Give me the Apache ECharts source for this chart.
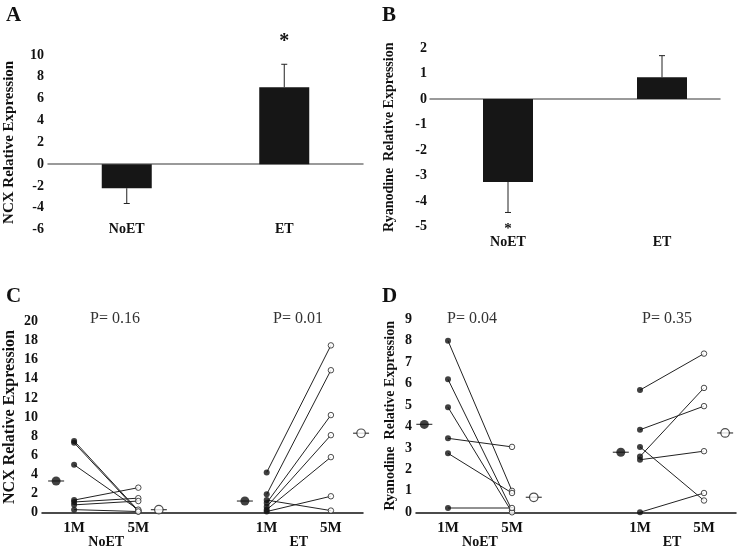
<!DOCTYPE html>
<html>
<head>
<meta charset="utf-8">
<script src="https://cdn.jsdelivr.net/npm/echarts@6/dist/echarts.min.js"></script>
<style>html,body{margin:0;padding:0;background:#fff}#chartDiv{width:739px;height:555px}</style>
</head>
<body>
<div id="chartDiv"></div>
<script>
var groups = ['NoET', 'ET'];
var timeLabels = ['1M', '5M'];

// A: NCX relative expression (bar + one-sided SE)
var ncxBars = [-2.2, 7.05];
var ncxErr = [1.4, 2.1];
var ncxSig = ['', '*'];

// B: ryanodine relative expression
var ryrBars = [-3.25, 0.85];
var ryrErr = [1.2, 0.85];
var ryrSig = ['*', ''];

// C: NCX per subject, 1M -> 5M
var ncxNoET1M = [7.5, 7.3, 5.0, 1.3, 1.1, 0.8, 0.3];
var ncxNoET5M = [0.2, 0.1, 0.3, 2.6, 1.5, 1.2, 0.1];
var ncxET1M = [4.2, 1.9, 1.0, 0.6, 0.3, 0.1, 1.3];
var ncxET5M = [17.5, 14.9, 10.2, 8.1, 5.8, 1.7, 0.2];
var ncxMeans = [3.3, 0.3, 1.2, 8.3]; // NoET 1M, NoET 5M, ET 1M, ET 5M
var ncxP = ['P= 0.16', 'P= 0.01'];

// D: ryanodine per subject
var ryrNoET1M = [8.0, 6.2, 4.9, 3.45, 2.75, 0.2];
var ryrNoET5M = [1.0, 0.1, 0.0, 3.05, 0.9, 0.2];
var ryrET1M = [5.7, 3.85, 3.05, 2.6, 2.45, 0.0];
var ryrET5M = [7.4, 4.95, 0.55, 5.8, 2.85, 0.9];
var ryrMeans = [4.1, 0.7, 2.8, 3.7];
var ryrP = ['P= 0.04', 'P= 0.35'];

// layout (x positions on the C/D value axis)
var timeX = [[0.5, 1.5], [3.5, 4.5]];
var meanXC = [0.22, 1.82, 3.16, 4.97];
var meanXD = [0.13, 1.84, 3.2, 4.83];

var FONT = '"Liberation Serif", "Times New Roman", serif';
var myChart = echarts.init(document.getElementById('chartDiv'));

function errItem(errs, sigs, starGap, starSize) {
    return function (params, api) {
        var i = params.dataIndex;
        var v = api.value(1);
        var dir = v < 0 ? -1 : 1;
        var p0 = api.coord([api.value(0), v]);
        var p1 = api.coord([api.value(0), v + dir * errs[i]]);
        var kids = [
            {type: 'line', shape: {x1: p0[0], y1: p0[1], x2: p1[0], y2: p1[1]}, style: {stroke: '#222', lineWidth: 1}},
            {type: 'line', shape: {x1: p1[0] - 3, y1: p1[1], x2: p1[0] + 3, y2: p1[1]}, style: {stroke: '#222', lineWidth: 1}}
        ];
        if (sigs[i]) {
            kids.push({
                type: 'text', x: p1[0], y: p1[1] - dir * starGap,
                style: {text: sigs[i], font: 'bold ' + starSize + 'px ' + FONT, textAlign: 'center', textVerticalAlign: 'middle', align: 'center', verticalAlign: 'middle', fill: '#111'}
            });
        }
        return {type: 'group', children: kids};
    };
}

function pairSeries(xi, yi, pre, post, xs, dot) {
    var out = [];
    for (var i = 0; i < pre.length; i++) {
        out.push({
            type: 'line', xAxisIndex: xi, yAxisIndex: yi,
            data: [[xs[0], pre[i]], [xs[1], post[i]]],
            symbol: 'none', silent: true, z: 2,
            lineStyle: {color: '#222', width: 1}
        });
    }
    out.push({type: 'scatter', xAxisIndex: xi, yAxisIndex: yi, z: 3, symbolSize: dot,
        data: pre.map(function (v) { return [xs[0], v]; }), itemStyle: {color: '#111'}});
    out.push({type: 'scatter', xAxisIndex: xi, yAxisIndex: yi, z: 3, symbolSize: dot - 0.5,
        data: post.map(function (v) { return [xs[1], v]; }),
        itemStyle: {color: '#fff', borderColor: '#222', borderWidth: 1}});
    return out;
}

function meanSeries(xi, yi, means, mx) {
    var pts = means.map(function (v, i) { return [mx[i], v]; });
    return [
        {type: 'scatter', xAxisIndex: xi, yAxisIndex: yi, z: 3, symbol: 'rect', symbolSize: [16, 1.3],
            data: pts, itemStyle: {color: '#222'}},
        {type: 'scatter', xAxisIndex: xi, yAxisIndex: yi, z: 4, symbolSize: 9,
            data: [pts[0], pts[2]], itemStyle: {color: '#111'}},
        {type: 'scatter', xAxisIndex: xi, yAxisIndex: yi, z: 4, symbolSize: 8.5,
            data: [pts[1], pts[3]], itemStyle: {color: '#fff', borderColor: '#222', borderWidth: 1.2}}
    ];
}

function yAx(gi, min, max, step, name, nameSize, gap) {
    return {
        type: 'value', gridIndex: gi, min: min, max: max, interval: step,
        name: name, nameLocation: 'middle', nameRotate: 90, nameGap: gap,
        nameTextStyle: {fontFamily: FONT, fontWeight: 'bold', fontSize: nameSize, color: '#111'},
        axisLine: {show: false}, axisTick: {show: false}, splitLine: {show: false},
        axisLabel: {fontFamily: FONT, fontWeight: 'bold', fontSize: 14, color: '#111', margin: 4}
    };
}

function timeAxis(gi) {
    return {
        type: 'value', gridIndex: gi, min: 0, max: 5, interval: 0.5, position: 'bottom',
        axisLine: {onZero: false, lineStyle: {color: '#111', width: 1.5}},
        axisTick: {show: false}, splitLine: {show: false},
        axisLabel: {fontFamily: FONT, fontWeight: 'bold', fontSize: 15, color: '#111', margin: 8,
            formatter: function (v) {
                for (var g = 0; g < timeX.length; g++) {
                    for (var t = 0; t < 2; t++) if (Math.abs(v - timeX[g][t]) < 1e-6) return timeLabels[t];
                }
                return '';
            }}
    };
}

function groupAxis(gi) {
    return {
        type: 'value', gridIndex: gi, min: 0, max: 5, interval: 1, position: 'bottom',
        axisLine: {show: false, onZero: false}, axisTick: {show: false}, splitLine: {show: false},
        axisLabel: {fontFamily: FONT, fontWeight: 'bold', fontSize: 14, color: '#111', margin: 23,
            formatter: function (v) {
                for (var g = 0; g < timeX.length; g++) {
                    if (Math.abs(v - (timeX[g][0] + timeX[g][1]) / 2) < 1e-6) return groups[g];
                }
                return '';
            }}
    };
}

var catLabel = {fontFamily: FONT, fontWeight: 'bold', fontSize: 14, color: '#111'};
var titleStyle = {fontFamily: FONT, fontWeight: 'bold', fontSize: 21, color: '#111'};
var pStyle = {fontFamily: FONT, fontWeight: 'normal', fontSize: 16, color: '#333'};

var series = [
    {type: 'bar', xAxisIndex: 0, yAxisIndex: 0, data: ncxBars, barWidth: 50, itemStyle: {color: '#161616'}, z: 2},
    {type: 'custom', xAxisIndex: 0, yAxisIndex: 0, clip: false, z: 3,
        data: ncxBars.map(function (v, i) { return [i, v]; }),
        renderItem: errItem(ncxErr, ncxSig, 22, 20)},
    {type: 'bar', xAxisIndex: 2, yAxisIndex: 1, data: ryrBars, barWidth: 50, itemStyle: {color: '#161616'}, z: 2},
    {type: 'custom', xAxisIndex: 2, yAxisIndex: 1, clip: false, z: 3,
        data: ryrBars.map(function (v, i) { return [i, v]; }),
        renderItem: errItem(ryrErr, ryrSig, 17, 15)}
];
series = series
    .concat(pairSeries(4, 3, ncxNoET1M, ncxNoET5M, timeX[0], 6))
    .concat(pairSeries(4, 3, ncxET1M, ncxET5M, timeX[1], 6))
    .concat(meanSeries(4, 3, ncxMeans, meanXC))
    .concat(pairSeries(6, 4, ryrNoET1M, ryrNoET5M, timeX[0], 6))
    .concat(pairSeries(6, 4, ryrET1M, ryrET5M, timeX[1], 6))
    .concat(meanSeries(6, 4, ryrMeans, meanXD));

myChart.setOption({
    animation: false,
    backgroundColor: '#fff',
    title: [
        {text: 'A', left: 6, top: 5, padding: 0, textStyle: titleStyle},
        {text: 'B', left: 382, top: 5, padding: 0, textStyle: titleStyle},
        {text: 'C', left: 6, top: 286, padding: 0, textStyle: titleStyle},
        {text: 'D', left: 382, top: 286, padding: 0, textStyle: titleStyle},
        {text: ncxP[0], left: 90, top: 311, padding: 0, textStyle: pStyle},
        {text: ncxP[1], left: 273, top: 311, padding: 0, textStyle: pStyle},
        {text: ryrP[0], left: 447, top: 311, padding: 0, textStyle: pStyle},
        {text: ryrP[1], left: 642, top: 311, padding: 0, textStyle: pStyle}
    ],
    grid: [
        {left: 48, top: 55, width: 315, height: 174.7},
        {left: 431, top: 48, width: 316, height: 178.5},
        {left: 430, top: 48, width: 290, height: 178.5},
        {left: 42, top: 321.5, width: 321, height: 191},
        {left: 416, top: 319.3, width: 321, height: 193}
    ],
    xAxis: [
        {type: 'category', gridIndex: 0, data: groups, axisLine: {show: false, onZero: false},
            axisTick: {show: false}, axisLabel: Object.assign({margin: 0, verticalAlign: 'middle'}, catLabel)},
        {type: 'category', gridIndex: 0, data: groups, position: 'bottom',
            axisLine: {onZero: true, lineStyle: {color: '#7a7a7a', width: 1.5}},
            axisTick: {show: false}, axisLabel: {show: false}},
        {type: 'category', gridIndex: 1, data: groups, axisLine: {show: false, onZero: false},
            axisTick: {show: false}, axisLabel: Object.assign({margin: 16, verticalAlign: 'middle'}, catLabel)},
        {type: 'value', gridIndex: 2, min: 0, max: 1, position: 'bottom',
            axisLine: {onZero: true, lineStyle: {color: '#7a7a7a', width: 1.5}},
            axisTick: {show: false}, axisLabel: {show: false}, splitLine: {show: false}},
        timeAxis(3),
        groupAxis(3),
        timeAxis(4),
        groupAxis(4)
    ],
    yAxis: [
        yAx(0, -6, 10, 2, 'NCX Relative Expression', 15, 31),
        yAx(1, -5, 2, 1, 'Ryanodine  Relative Expression', 14, 35),
        {type: 'value', gridIndex: 2, min: -5, max: 2, show: false},
        yAx(3, 0, 20, 2, 'NCX Relative Expression', 16, 24),
        yAx(4, 0, 9, 1, 'Ryanodine  Relative Expression', 14, 19)
    ],
    series: series
});
window.onresize = myChart.resize;
</script>
</body>
</html>
